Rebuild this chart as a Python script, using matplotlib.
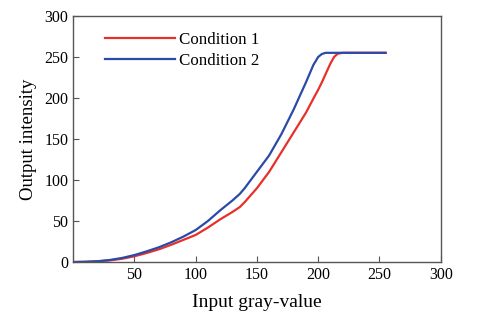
import matplotlib
matplotlib.use('Agg')
import matplotlib.pyplot as plt

# Input gray values and the two mapping curves
gray_in = [0, 10, 20, 30, 40, 50, 60, 70, 80, 90, 100, 110, 120, 130, 136, 140,
           150, 160, 170, 180, 190, 196, 200, 203, 206, 210, 213, 216, 220, 255]
cond1 = [0, 0.2, 0.8, 2, 4, 7, 11, 15.5, 21, 27, 33, 42, 52, 61, 67, 73,
         90, 110, 134, 158, 182, 199, 210, 219, 229, 242, 250, 254, 255, 255]
cond2 = [0, 0.3, 1, 2.5, 5, 8.5, 13, 18, 24, 31, 39, 50, 63, 75, 83, 90,
         110, 130, 156, 186, 219, 240, 250, 253.5, 255, 255, 255, 255, 255, 255]

plt.rcParams['font.family'] = ['Liberation Serif', 'DejaVu Serif']

fig, ax = plt.subplots(figsize=(4.78, 3.18), dpi=100)
fig.subplots_adjust(left=0.153, right=0.922, top=0.95, bottom=0.176)

ax.plot(gray_in, cond1, color='#e8302a', lw=1.6, label='Condition 1')
ax.plot(gray_in, cond2, color='#2b4aa8', lw=1.6, label='Condition 2')

ax.set_xlim(0, 300)
ax.set_ylim(0, 300)
ax.set_xticks([50, 100, 150, 200, 250, 300])
ax.set_yticks([0, 50, 100, 150, 200, 250, 300])
ax.tick_params(direction='in', labelsize=11.5, color='#555555', length=4)
for s in ax.spines.values():
    s.set_color('#555555')
    s.set_linewidth(1.0)

ax.set_xlabel('Input gray-value', fontsize=14, labelpad=8)
ax.set_ylabel('Output intensity', fontsize=13.5, labelpad=5)

ax.legend(loc='upper left', bbox_to_anchor=(0.087, 0.933), frameon=False,
          fontsize=12.2, handlelength=4.1, handletextpad=0.25, labelspacing=0.25,
          borderpad=0, borderaxespad=0)

fig.savefig('out.png', dpi=100)
